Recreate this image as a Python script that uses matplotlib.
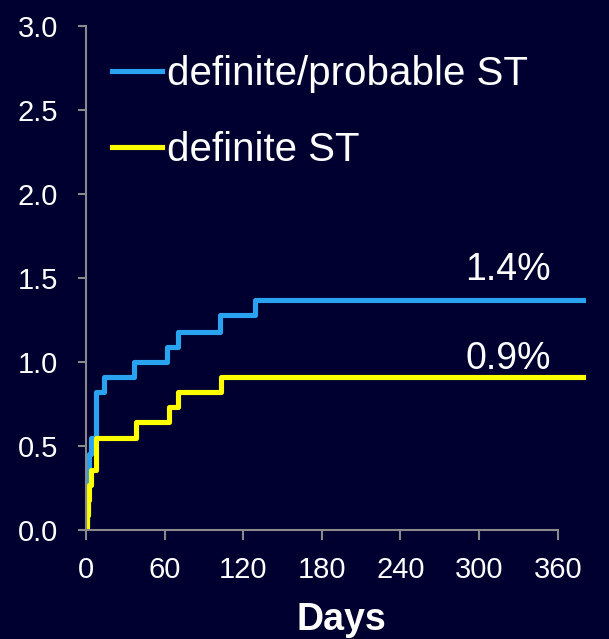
import matplotlib
matplotlib.use("Agg")
import matplotlib.pyplot as plt

# cumulative stent thrombosis (%)
days_prob = [0, 0.5, 1.5, 2.5, 4, 7.5, 14, 37, 62, 70, 102, 129, 379]
st_prob = [0, 0.09, 0.27, 0.45, 0.55, 0.82, 0.91, 1.00, 1.09, 1.18, 1.28, 1.37, 1.37]

days_def = [0, 0.5, 1.5, 2.5, 3.5, 8, 38, 63, 70, 103, 379]
st_def = [0, 0.09, 0.18, 0.27, 0.36, 0.55, 0.64, 0.73, 0.82, 0.91, 0.91]

x_ticks = [0, 60, 120, 180, 240, 300, 360]
y_ticks = [0.0, 0.5, 1.0, 1.5, 2.0, 2.5, 3.0]
end_labels = ["1.4%", "0.9%"]

bg = "#000030"
blue = "#29A3F0"
yellow = "#FFFF00"
grey = "#8a8a8a"

plt.rcParams["font.family"] = ["Liberation Sans", "DejaVu Sans"]

fig = plt.figure(figsize=(6.09, 6.39), dpi=100, facecolor=bg)
ax = fig.add_axes([86 / 609, 1 - 530 / 639, 511 / 609, 504 / 639])
ax.set_facecolor(bg)

ax.step(days_prob, st_prob, where="post", color=blue, lw=3.7, label="definite/probable ST")
ax.step(days_def, st_def, where="post", color=yellow, lw=3.7, label="definite ST")

ax.set_xlim(0, 390)
ax.set_ylim(0, 3.0)
ax.set_xticks(x_ticks)
ax.set_yticks(y_ticks)
ax.set_yticklabels([f"{v:.1f}" for v in y_ticks])

for s in ["top", "right"]:
    ax.spines[s].set_visible(False)
for s in ["left", "bottom"]:
    ax.spines[s].set_color(grey)
    ax.spines[s].set_linewidth(1.5)
ax.spines["bottom"].set_bounds(0, 360)
ax.spines["left"].set_bounds(0, 3.0)

ax.tick_params(axis="y", colors=grey, labelcolor="white", labelsize=21,
               length=6, width=1.5, pad=14)
ax.tick_params(axis="x", colors=grey, labelcolor="white", labelsize=21,
               length=7, width=1.5, pad=12)

ax.set_xlabel("Days", color="white", fontsize=27, fontweight="bold", labelpad=13)

ax.text(355, 1.37 + 0.12, end_labels[0], color="white", fontsize=27, ha="right", va="baseline")
ax.text(355, 0.91 + 0.05, end_labels[1], color="white", fontsize=27, ha="right", va="baseline")

leg = ax.legend(loc="upper left", bbox_to_anchor=(112 / 609, 1 - 55 / 639),
                bbox_transform=fig.transFigure, frameon=False, fontsize=29,
                handlelength=1.25, handletextpad=0.12, labelspacing=0.95,
                borderpad=0, borderaxespad=0)
for t in leg.get_texts():
    t.set_color("white")

fig.savefig("out.png", dpi=100, facecolor=bg)
